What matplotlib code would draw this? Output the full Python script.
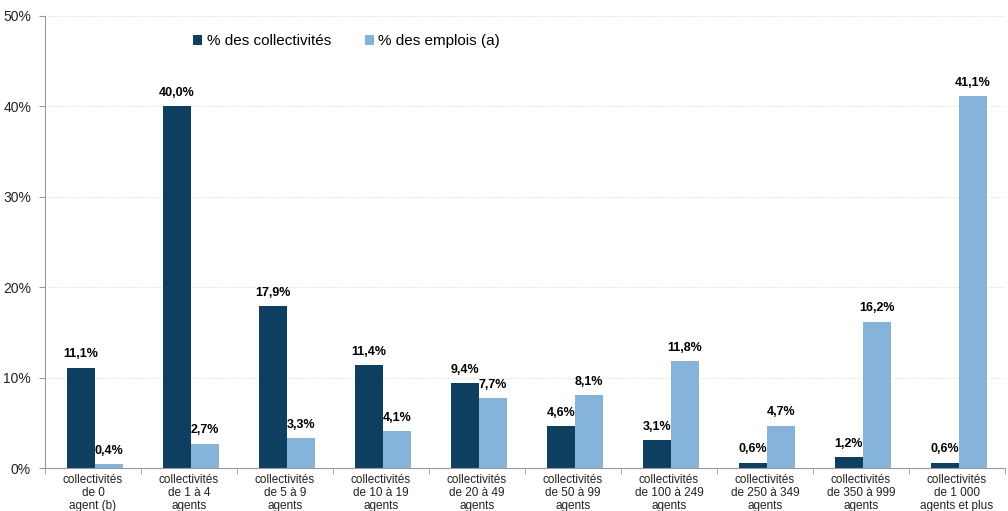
import numpy as np
import matplotlib.pyplot as plt

categories = [
    "collectivités\nde 0\nagent (b)",
    "collectivités\nde 1 à 4\nagents",
    "collectivités\nde 5 à 9\nagents",
    "collectivités\nde 10 à 19\nagents",
    "collectivités\nde 20 à 49\nagents",
    "collectivités\nde 50 à 99\nagents",
    "collectivités\nde 100 à 249\nagents",
    "collectivités\nde 250 à 349\nagents",
    "collectivités\nde 350 à 999\nagents",
    "collectivités\nde 1 000\nagents et plus",
]
pct_collectivites = [11.1, 40.0, 17.9, 11.4, 9.4, 4.6, 3.1, 0.6, 1.2, 0.6]
pct_emplois = [0.4, 2.7, 3.3, 4.1, 7.7, 8.1, 11.8, 4.7, 16.2, 41.1]

dark = "#0e3f61"
light = "#85b3d9"

plt.rcParams['font.family'] = ['Liberation Sans', 'DejaVu Sans']

fig = plt.figure(figsize=(10.08, 5.11), dpi=100)
ax = fig.add_axes([0.0446, 0.0841, 0.9524, 0.8846])

x = np.arange(len(categories))
w = 0.29
b1 = ax.bar(x - w / 2 + 0.02, pct_collectivites, w, color=dark, label="% des collectivités")
b2 = ax.bar(x + w / 2 + 0.02, pct_emplois, w, color=light, label="% des emplois (a)")

for bars, vals in [(b1, pct_collectivites), (b2, pct_emplois)]:
    for r, v in zip(bars, vals):
        ax.text(r.get_x() + r.get_width() / 2, v + 0.8, f"{v:.1f}%".replace(".", ","),
                ha="center", va="bottom", fontsize=9, fontweight="bold")

ax.set_xlim(-0.5, len(categories) - 0.5)
ax.set_ylim(0, 50)
ax.set_yticks(np.arange(0, 51, 10))
ax.set_yticklabels([f"{t}%" for t in range(0, 51, 10)], fontsize=10, color="#222222")
ax.set_xticks(x)
ax.set_xticklabels(categories, fontsize=8.5, linespacing=1.15, color="#222222")
ax.tick_params(axis="x", length=0, pad=4)
ax.set_xticks(np.arange(-0.5, len(categories), 1), minor=True)
ax.tick_params(axis="x", which="minor", length=4, color="#999999")
ax.tick_params(axis="y", length=4, color="#999999", pad=6)

ax.yaxis.grid(True, linestyle=(0, (1, 2)), color="#cccccc", linewidth=0.6)
ax.set_axisbelow(True)
for s in ["top", "right"]:
    ax.spines[s].set_visible(False)
for s in ["left", "bottom"]:
    ax.spines[s].set_color("#999999")
    ax.spines[s].set_linewidth(0.8)

ax.legend(loc="upper left", bbox_to_anchor=(0.14, 0.99), ncol=2, frameon=False,
          fontsize=11, handlelength=0.6, handleheight=0.6, handletextpad=0.3,
          columnspacing=2.2)

fig.savefig("out.png", dpi=100)
